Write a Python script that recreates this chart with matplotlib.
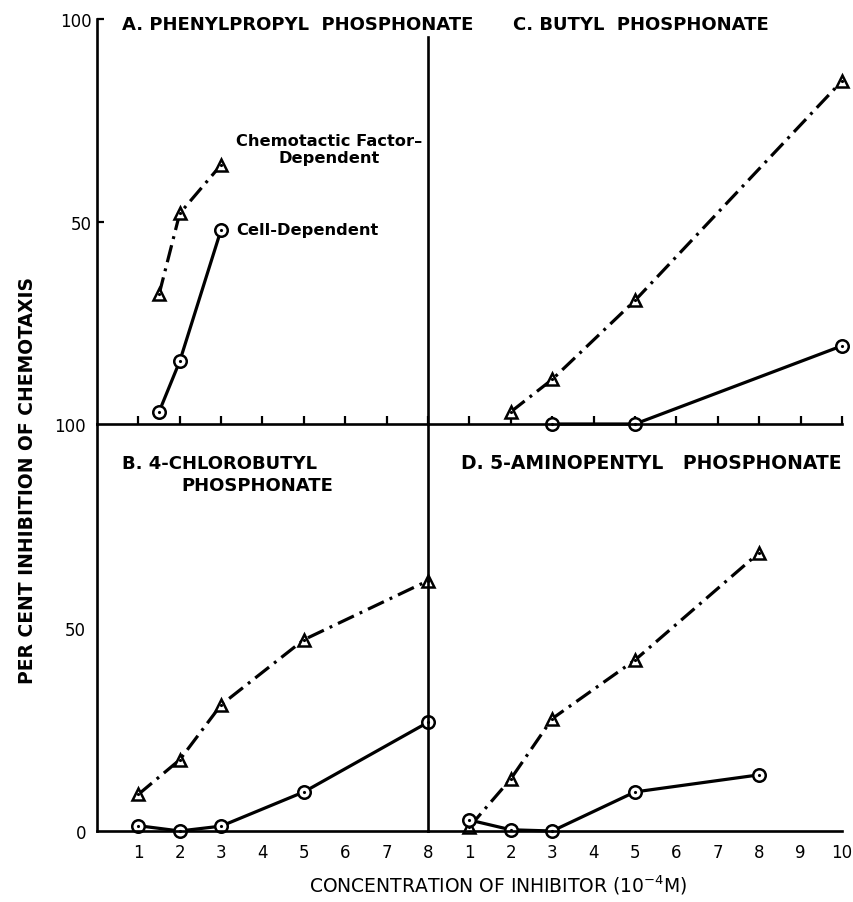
import matplotlib
matplotlib.use("Agg")
import matplotlib.pyplot as plt

# Panel data: concentration (10^-4 M) and per cent inhibition
a_tri_x = [1.5, 2, 3]
a_tri_y = [32, 52, 64]
a_cir_x = [1.5, 2, 3]
a_cir_y = [3, 15.5, 48]

b_tri_x = [1, 2, 3, 5, 8]
b_tri_y = [9, 17.5, 31, 47, 61.5]
b_cir_x = [1, 2, 3, 5, 8]
b_cir_y = [1.3, 0, 1.2, 9.6, 26.7]

c_tri_x = [2, 3, 5, 10]
c_tri_y = [3, 11, 30.5, 84.7]
c_cir_x = [3, 5, 10]
c_cir_y = [0, 0, 19.3]

d_tri_x = [1, 2, 3, 5, 8]
d_tri_y = [1, 12.8, 27.6, 42, 68.4]
d_cir_x = [1, 2, 3, 5, 8]
d_cir_y = [2.7, 0.3, 0, 9.6, 13.8]

left_ticks = [1, 2, 3, 4, 5, 6, 7, 8]
right_ticks = [1, 2, 3, 4, 5, 6, 7, 8, 9, 10]

LW = 2.3
DASHDOT = (0, (5.5, 2, 0.9, 2))
SPW = 1.9

fig = plt.figure(figsize=(8.54, 9.03), dpi=100)
W, H = 854, 903


def px_axes(x0, y0, x1, y1):
    # figure pixels (top-left origin) -> axes
    return fig.add_axes([x0 / W, 1 - y1 / H, (x1 - x0) / W, (y1 - y0) / H])


ax_a = px_axes(97, 20, 428, 425)
ax_c = px_axes(428, 20, 842, 425)
ax_b = px_axes(97, 425, 428, 832)
ax_d = px_axes(428, 425, 842, 832)

for ax, xmax in [(ax_a, 8), (ax_b, 8), (ax_c, 10), (ax_d, 10)]:
    ax.set_xlim(0, xmax)
    ax.set_ylim(0, 100)
    ax.patch.set_alpha(0)
    for s in ax.spines.values():
        s.set_linewidth(SPW)
        s.set_visible(False)


def plot_series(ax, tx, ty, cx, cy):
    ax.plot(tx, ty, color="black", lw=LW, linestyle=DASHDOT, clip_on=False)
    ax.plot(cx, cy, color="black", lw=LW, clip_on=False)
    ax.plot(tx, ty, linestyle="none", marker="^", ms=9, mfc="white", mec="black", mew=1.8, clip_on=False)
    ax.plot(cx, cy, linestyle="none", marker="o", ms=9, mfc="white", mec="black", mew=1.8, clip_on=False)
    ax.plot(tx + cx, ty + cy, linestyle="none", marker=".", ms=2.5, color="black", clip_on=False)


# top-left (A)
ax_a.spines["left"].set_visible(True)
ax_a.spines["bottom"].set_visible(True)
ax_a.spines["right"].set_visible(True)
ax_a.spines["right"].set_bounds(0, 95.5)
ax_a.set_xticks(left_ticks)
ax_a.tick_params(axis="x", direction="in", length=6, width=1.6, labelbottom=False)
ax_a.set_yticks([50, 100])
ax_a.set_yticklabels(["50", "100"])
ax_a.tick_params(axis="y", direction="in", length=5, width=1.6, labelsize=12, pad=4)
plot_series(ax_a, a_tri_x, a_tri_y, a_cir_x, a_cir_y)
ax_a.text(0.6, 98.8, "A. PHENYLPROPYL  PHOSPHONATE", fontsize=13, fontweight="bold", va="center", ha="left")
ax_a.text(5.6, 68, "Chemotactic Factor\u2013\nDependent", fontsize=11.7, fontweight="bold",
          ha="center", va="center", linespacing=1.15)
ax_a.text(3.37, 48, "Cell-Dependent", fontsize=11.7, fontweight="bold", ha="left", va="center")

# top-right (C)
ax_c.spines["bottom"].set_visible(True)
ax_c.set_xticks(right_ticks)
ax_c.tick_params(axis="x", direction="in", length=6, width=1.6, labelbottom=False)
ax_c.set_yticks([])
plot_series(ax_c, c_tri_x, c_tri_y, c_cir_x, c_cir_y)
ax_c.text(2.05, 98.8, "C. BUTYL  PHOSPHONATE", fontsize=13, fontweight="bold", va="center", ha="left")

# bottom-left (B)
ax_b.spines["left"].set_visible(True)
ax_b.spines["bottom"].set_visible(True)
ax_b.spines["right"].set_visible(True)
ax_b.set_xticks(left_ticks)
ax_b.tick_params(axis="x", length=0, labelsize=12, pad=9)
ax_b.set_yticks([0, 50, 100])
ax_b.set_yticklabels(["0", "50", "100"])
ax_b.tick_params(axis="y", length=0, labelsize=12, pad=8)
plot_series(ax_b, b_tri_x, b_tri_y, b_cir_x, b_cir_y)
ax_b.text(0.6, 90.5, "B. 4-CHLOROBUTYL", fontsize=13, fontweight="bold", va="center", ha="left")
ax_b.text(2.05, 85, "PHOSPHONATE", fontsize=13, fontweight="bold", va="center", ha="left")

# bottom-right (D)
ax_d.spines["bottom"].set_visible(True)
ax_d.set_xticks(right_ticks)
ax_d.tick_params(axis="x", length=0, labelsize=12, pad=9)
ax_d.set_yticks([])
plot_series(ax_d, d_tri_x, d_tri_y, d_cir_x, d_cir_y)
ax_d.text(0.8, 90.5, "D. 5-AMINOPENTYL   PHOSPHONATE", fontsize=13.5, fontweight="bold", va="center", ha="left")

fig.text(28 / W, 1 - 481 / H, "PER CENT INHIBITION OF CHEMOTAXIS", rotation=90,
         fontsize=13.5, fontweight="bold", ha="center", va="center")
fig.text(498 / W, 1 - 885 / H, "CONCENTRATION OF INHIBITOR (10$^{-4}$M)",
         fontsize=13.5, ha="center", va="center")

fig.savefig("out.png", dpi=100)
